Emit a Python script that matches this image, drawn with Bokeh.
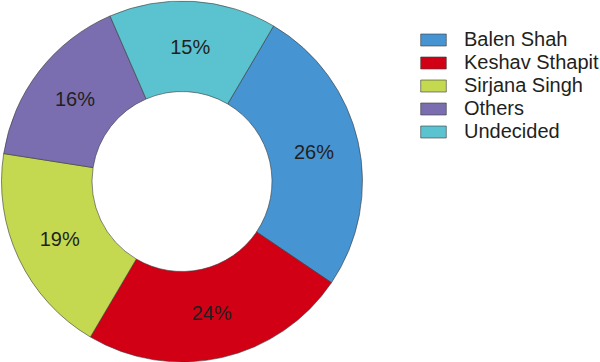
import math
from bokeh.plotting import figure
from bokeh.models import Range1d, Legend, LegendItem, ColumnDataSource
from bokeh.core.properties import value
from bokeh.embed import file_html
from bokeh.resources import INLINE

categories = ["Balen Shah", "Keshav Sthapit", "Sirjana Singh", "Others", "Undecided"]
shares = [26, 24, 19, 16, 15]
colors = ["#4694D2", "#D20015", "#C4D94F", "#7B6EB0", "#5BC2D0"]

W, H = 600, 362
cx, cy = 181.5, 181
r_out, r_in = 180.5, 90
start_deg = 90 - 30.5  # first slice starts 30.5 deg clockwise from 12 o'clock

total = sum(shares)
starts, ends, lx, ly, labels = [], [], [], [], []
cum = 0
for s in shares:
    a0 = math.radians(start_deg - cum / total * 360)
    a1 = math.radians(start_deg - (cum + s) / total * 360)
    starts.append(a0)
    ends.append(a1)
    mid = (a0 + a1) / 2
    rl = (r_out + r_in) / 2
    lx.append(cx + rl * math.cos(mid))
    ly.append(cy + rl * math.sin(mid))
    labels.append(f"{s}%")
    cum += s

src = ColumnDataSource(dict(start=starts, end=ends, color=colors, cat=categories,
                            x=[cx] * len(shares), y=[cy] * len(shares)))

p = figure(width=W, height=H, output_backend="svg", toolbar_location=None,
           x_range=Range1d(0, W), y_range=Range1d(0, H), min_border=0,
           outline_line_color=None)
p.axis.visible = False
p.grid.visible = False
p.background_fill_color = "white"

r = p.annular_wedge(x="x", y="y", inner_radius=r_in, outer_radius=r_out,
                    start_angle="start", end_angle="end", direction="clock",
                    fill_color="color", line_color="#3a3a3a", line_width=0.6,
                    source=src)

p.text(x=lx, y=ly, text=labels, text_align="center", text_baseline="middle",
       text_font=value("Liberation Sans"), text_font_size="20px", text_color="#231F20")

items = [LegendItem(label=c, renderers=[r], index=i) for i, c in enumerate(categories)]
legend = Legend(items=items, location=(417, 219), orientation="vertical",
                glyph_width=32, glyph_height=15, label_height=20, spacing=0,
                padding=0, margin=0, label_standoff=15,
                label_text_font="Liberation Sans", label_text_font_size="20px",
                label_text_color="#231F20", border_line_color=None,
                background_fill_alpha=0)
p.add_layout(legend, "center")

open("out.html", "w").write(file_html(p, INLINE))
